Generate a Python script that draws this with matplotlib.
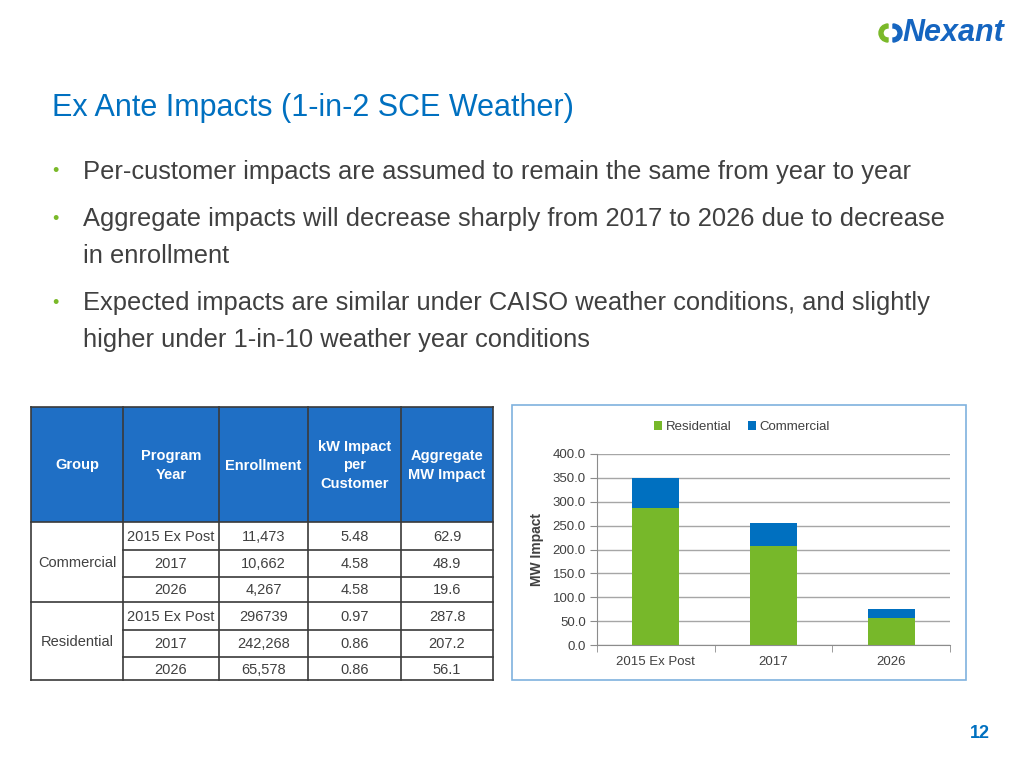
import matplotlib
matplotlib.use("Agg")
import matplotlib.pyplot as plt
from matplotlib.patches import Rectangle, Wedge
import numpy as np

# ---------------- data ----------------
categories = ["2015 Ex Post", "2017", "2026"]
residential = [287.8, 207.2, 56.1]
commercial = [62.9, 48.9, 19.6]
y_ticks = [0, 50, 100, 150, 200, 250, 300, 350, 400]

table_header = ["Group", "Program\nYear", "Enrollment", "kW Impact\nper\nCustomer", "Aggregate\nMW Impact"]
groups = ["Commercial", "Residential"]
program_years = ["2015 Ex Post", "2017", "2026", "2015 Ex Post", "2017", "2026"]
enrollment = ["11,473", "10,662", "4,267", "296739", "242,268", "65,578"]
kw_per_customer = ["5.48", "4.58", "4.58", "0.97", "0.86", "0.86"]
aggregate_mw = ["62.9", "48.9", "19.6", "287.8", "207.2", "56.1"]

title = "Ex Ante Impacts (1-in-2 SCE Weather)"
bullets = [
    ("Per-customer impacts are assumed to remain the same from year to year",),
    ("Aggregate impacts will decrease sharply from 2017 to 2026 due to decrease", "in enrollment"),
    ("Expected impacts are similar under CAISO weather conditions, and slightly", "higher under 1-in-10 weather year conditions"),
]

BLUE = "#0070C0"
GREEN = "#77B82A"
TEXT = "#404040"

plt.rcParams['font.family'] = ['Liberation Sans', 'DejaVu Sans']

fig = plt.figure(figsize=(10.24, 7.68), dpi=100)
bg = fig.add_axes([0, 0, 1, 1])
bg.set_xlim(0, 1024)
bg.set_ylim(768, 0)
bg.axis("off")

# title
bg.text(52, 108, title, fontsize=22, color=BLUE, va="center", ha="left")

# bullets
bullet_y = [172, 219, 303]
for y0, lines in zip(bullet_y, bullets):
    bg.text(52, y0, "•", fontsize=13, color="#7AB929", va="center", ha="left")
    for i, ln in enumerate(lines):
        bg.text(83, y0 + i * 37, ln, fontsize=18.4, color=TEXT, va="center", ha="left")

# logo
bg.add_patch(Wedge((888, 33), 9, 90, 270, width=4, color="#7AB929"))
bg.add_patch(Wedge((893, 33), 9, 270, 90, width=4, color="#1565C0"))
bg.text(902, 33, "Nexant", fontsize=22, color="#1565C0", fontweight="bold",
        style="italic", va="center", ha="left")

# page number
bg.text(980, 733, "12", fontsize=13, color=BLUE, fontweight="bold", va="center", ha="center")

# ---------------- table ----------------
col_x = [31, 123, 219, 308, 401, 493]
header_top, header_bot = 407, 522
row_y = [522, 550, 577, 602, 630, 657, 680]
line_c = "#3a3a3a"

bg.add_patch(Rectangle((col_x[0], header_top), col_x[-1] - col_x[0], header_bot - header_top,
                       facecolor="#1F6FC5", edgecolor="none"))
for j, h in enumerate(table_header):
    cx = (col_x[j] + col_x[j + 1]) / 2
    bg.text(cx, (header_top + header_bot) / 2 + 1, h, fontsize=10.5, color="white", fontweight="bold",
            ha="center", va="center", linespacing=1.4)

for i in range(6):
    cy = (row_y[i] + row_y[i + 1]) / 2 + 1
    vals = [program_years[i], enrollment[i], kw_per_customer[i], aggregate_mw[i]]
    for j, v in enumerate(vals):
        cx = (col_x[j + 1] + col_x[j + 2]) / 2
        bg.text(cx, cy, v, fontsize=10.5, color=TEXT, ha="center", va="center")
for g, gi in enumerate(groups):
    cy = (row_y[g * 3] + row_y[g * 3 + 3]) / 2 + 1
    bg.text((col_x[0] + col_x[1]) / 2, cy, gi, fontsize=10.5, color=TEXT, ha="center", va="center")

# table lines
for x in col_x:
    bg.plot([x, x], [header_top, row_y[-1]], color=line_c, lw=1.2)
bg.plot([col_x[0], col_x[-1]], [header_top, header_top], color=line_c, lw=1.2)
for k, y in enumerate(row_y):
    if k in (0, 3, 6):
        bg.plot([col_x[0], col_x[-1]], [y, y], color=line_c, lw=1.2)
    else:
        bg.plot([col_x[1], col_x[-1]], [y, y], color=line_c, lw=1.2)

# ---------------- chart ----------------
bg.add_patch(Rectangle((512, 405), 454, 275, facecolor="white", edgecolor="#7FB2DE", lw=1.2))

ax = fig.add_axes([597 / 1024, 1 - 645 / 768, (950 - 597) / 1024, (645 - 454) / 768])
x = np.arange(len(categories))
ax.bar(x, residential, width=0.4, color=GREEN, label="Residential", zorder=3)
ax.bar(x, commercial, width=0.4, bottom=residential, color=BLUE, label="Commercial", zorder=3)
ax.set_xlim(-0.5, len(categories) - 0.5)
ax.set_ylim(0, 400)
ax.set_yticks(y_ticks)
ax.set_yticklabels([f"{v:.1f}" for v in y_ticks], fontsize=9.5, color=TEXT)
ax.set_xticks(x)
ax.set_xticklabels(categories, fontsize=9.5, color=TEXT)
ax.tick_params(axis="x", length=0, pad=8)
ax.set_xticks(np.arange(-0.5, len(categories)), minor=True)
ax.tick_params(axis="x", which="minor", length=5, color="#8c8c8c", direction="out")
ax.tick_params(axis="y", length=5, color="#8c8c8c", pad=3)
ax.yaxis.grid(True, color="#A6A6A6", lw=1)
ax.set_axisbelow(True)
for s in ["top", "right"]:
    ax.spines[s].set_visible(False)
ax.spines["left"].set_color("#8c8c8c")
ax.spines["bottom"].set_color("#8c8c8c")
ax.set_ylabel("MW Impact", fontsize=10, fontweight="bold", color=TEXT, labelpad=6)
ax.patch.set_alpha(0)

leg = fig.legend(loc="center", bbox_to_anchor=(742 / 1024, 1 - 427 / 768), ncol=2, frameon=False,
                 fontsize=9.5, handlelength=0.6, handleheight=0.6, columnspacing=1.2, handletextpad=0.3)
for t in leg.get_texts():
    t.set_color(TEXT)

fig.savefig("out.png", dpi=100)
